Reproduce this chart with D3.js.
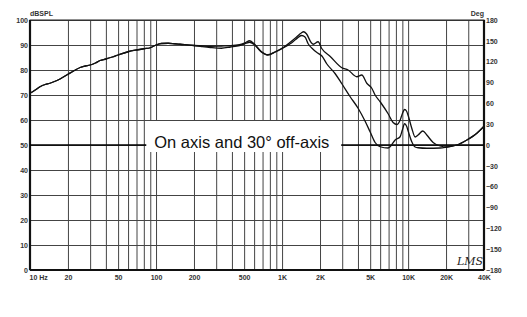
<!DOCTYPE html>
<html>
<head>
<meta charset="utf-8">
<script src="https://cdn.jsdelivr.net/npm/d3@7"></script>
<style>
  body { margin: 0; background: #fff; }
  svg { display: block; }
</style>
</head>
<body>
<div id="chart"></div>
<script>
// medidas de respuesta en frecuencia (Hz, dBSPL)
const onAxis = [
  [10, 70.7], [11, 72], [12, 73.3], [13.2, 74.2], [14.4, 74.7], [16, 75.6], [17.3, 76.4],
  [20, 78.3], [22.5, 79.8], [25, 81], [27.5, 81.6], [30, 82], [33, 82.8], [36, 83.8],
  [40, 84.4], [45, 85.2], [50, 86], [60, 87.3], [70, 88], [80, 88.5], [90, 88.9],
  [100, 90], [110, 90.6], [125, 90.7], [140, 90.5], [155, 90.3], [200, 89.8],
  [270, 89.5], [330, 89.6], [390, 89.7], [460, 90.1], [520, 91.1], [550, 91.7],
  [600, 90.5], [680, 87.5], [770, 86.1], [880, 87.3], [1020, 89], [1160, 91.1],
  [1290, 93], [1420, 94.8], [1480, 95.3], [1560, 94.5], [1700, 91], [1770, 90.3],
  [1930, 91.3], [2070, 88.5], [2400, 85.5], [2980, 80.9], [3340, 80], [3920, 77.3],
  [4290, 78], [4700, 74.7], [5150, 72.7], [5470, 70], [6000, 67.3], [6940, 62.5],
  [7600, 59], [8180, 58.2], [8650, 60], [9000, 62.5], [9380, 64.2], [9730, 63.5],
  [10050, 61.5], [10690, 56.7], [11370, 53.2], [12000, 54], [13090, 55.6], [14070, 54],
  [15790, 51], [17940, 49.6], [20270, 49.2], [24360, 50], [29250, 52], [35100, 54.7],
  [40000, 57.5]
];

const offAxis = [
  [10, 70.7], [11, 72], [12, 73.3], [13.2, 74.2], [14.4, 74.7], [16, 75.6], [17.3, 76.4],
  [20, 78.3], [22.5, 79.8], [25, 81], [27.5, 81.6], [30, 82], [33, 82.8], [36, 83.8],
  [40, 84.4], [45, 85.2], [50, 86], [60, 87.3], [70, 88], [80, 88.5], [90, 88.9],
  [100, 90], [110, 90.6], [125, 90.7], [140, 90.5], [155, 90.3], [200, 89.8],
  [230, 89.4], [270, 89], [330, 88.7], [390, 89.2], [460, 89.8], [520, 90.7], [550, 91.1],
  [600, 90.2], [680, 87.3], [770, 86], [880, 87.1], [1020, 88.8], [1160, 90.5],
  [1290, 92.3], [1430, 93.8], [1520, 93.2], [1610, 90.5], [1760, 88.3], [1930, 86.7],
  [2070, 85.6], [2260, 82.5], [2640, 78.5], [2980, 74.5], [3470, 69.3], [4010, 64.7],
  [4560, 59.5], [4990, 55.3], [5470, 51], [6000, 49.3], [6940, 48.8], [7200, 49.3],
  [7890, 52], [8640, 53.3], [9000, 56], [9380, 58.5], [9730, 57.5], [10050, 55.3],
  [10690, 51.3], [11370, 49.2], [12000, 48.9], [14070, 48.7], [17940, 48.8],
  [20270, 49.2], [24360, 50], [29250, 52], [35100, 54.7], [40000, 57.5]
];

// fase (grados), traza plana en 0
const phase = [[10, 0], [40000, 0]];

// ejes y etiquetas
const freqTicks = [10, 20, 50, 100, 200, 500, 1000, 2000, 5000, 10000, 20000, 40000];
const freqLabels = ["10 Hz", "20", "50", "100", "200", "500", "1K", "2K", "5K", "10K", "20K", "40K"];
const gridFreqs = [20, 30, 40, 50, 60, 70, 80, 90, 100, 200, 300, 400, 500, 600, 700, 800, 900,
  1000, 2000, 3000, 4000, 5000, 6000, 7000, 8000, 9000, 10000, 20000, 30000];
const dbTicks = [0, 10, 20, 30, 40, 50, 60, 70, 80, 90, 100];
const degTicks = [-180, -150, -120, -90, -60, -30, 0, 30, 60, 90, 120, 150, 180];
const chartLabel = "On axis and 30° off-axis";

const width = 527, height = 317;
const margin = { top: 20, right: 43, bottom: 47, left: 30 };
const innerWidth = width - margin.left - margin.right;
const innerHeight = height - margin.top - margin.bottom;
const labelFont = "Arial, 'Liberation Sans', sans-serif";

const svg = d3.select("#chart").append("svg")
  .attr("width", width).attr("height", height);
svg.append("rect").attr("width", width).attr("height", height).attr("fill", "#fff");

const g = svg.append("g").attr("transform", `translate(${margin.left},${margin.top})`);

const x = d3.scaleLog().domain([10, 40000]).range([0, innerWidth]);
const y = d3.scaleLinear().domain([0, 100]).range([innerHeight, 0]);
const yDeg = d3.scaleLinear().domain([-180, 180]).range([innerHeight, 0]);

// rejilla vertical
g.append("g")
  .attr("transform", `translate(0,${innerHeight})`)
  .call(d3.axisBottom(x).tickValues(gridFreqs).tickSize(-innerHeight).tickFormat(""))
  .call(a => a.select(".domain").remove())
  .call(a => a.selectAll("text").remove())
  .call(a => a.selectAll("line").attr("stroke", "#444").attr("stroke-width", 1));

// rejilla horizontal
g.append("g")
  .call(d3.axisLeft(y).tickValues(dbTicks).tickSize(-innerWidth).tickFormat(""))
  .call(a => a.select(".domain").remove())
  .call(a => a.selectAll("text").remove())
  .call(a => a.selectAll("line").attr("stroke", "#444").attr("stroke-width", 1));

// marco
g.append("rect").attr("width", innerWidth).attr("height", innerHeight)
  .attr("fill", "none").attr("stroke", "#222").attr("stroke-width", 1);
[[0, 0, 0, innerHeight], [innerWidth, 0, innerWidth, innerHeight], [0, innerHeight, innerWidth, innerHeight]]
  .forEach(l => g.append("line")
    .attr("x1", l[0]).attr("y1", l[1]).attr("x2", l[2]).attr("y2", l[3])
    .attr("stroke", "#111").attr("stroke-width", 2.2));

// traza de fase
g.append("path").datum(phase)
  .attr("fill", "none").attr("stroke", "#000").attr("stroke-width", 1.6)
  .attr("d", d3.line().x(d => x(d[0])).y(d => yDeg(d[1])));

// caja del titulo
g.append("rect")
  .attr("x", x(90) - 4).attr("y", y(60) + 1)
  .attr("width", x(3000) - x(90) + 3).attr("height", y(40) - y(60) - 19)
  .attr("fill", "#fff");
g.append("text")
  .attr("x", x(90) + 4).attr("y", y(48.9))
  .attr("font-family", labelFont)
  .attr("font-size", 16.5).attr("fill", "#111")
  .text(chartLabel);

// curvas
const line = d3.line().x(d => x(d[0])).y(d => y(d[1])).curve(d3.curveMonotoneX);
[offAxis, onAxis].forEach(s => {
  g.append("path").datum(s)
    .attr("fill", "none").attr("stroke", "#111").attr("stroke-width", 1.3)
    .attr("stroke-linejoin", "round")
    .attr("d", line);
});

// estilo de las etiquetas de los ejes
function styleAxis(a) {
  a.select(".domain").remove();
  a.attr("font-size", 7).attr("font-family", labelFont).attr("font-weight", "bold");
  a.selectAll(".tick text").attr("fill", "#333");
}

// ejes con etiquetas
const xAxis = g.append("g")
  .attr("transform", `translate(0,${innerHeight})`)
  .call(d3.axisBottom(x).tickValues(freqTicks).tickSize(0).tickPadding(5)
    .tickFormat((d, i) => freqLabels[i]))
  .call(styleAxis);
xAxis.selectAll(".tick text").filter((d, i) => i === 0)
  .attr("text-anchor", "start").attr("dx", -1);

g.append("g")
  .call(d3.axisLeft(y).tickValues(dbTicks).tickSize(0).tickPadding(2))
  .call(styleAxis);

g.append("g")
  .attr("transform", `translate(${innerWidth},0)`)
  .call(d3.axisRight(yDeg).tickValues(degTicks).tickSize(0).tickPadding(2))
  .call(styleAxis);

// titulos de ejes
g.append("text").attr("x", 0).attr("y", -4)
  .attr("font-family", labelFont).attr("font-weight", "bold")
  .attr("font-size", 7).attr("fill", "#333").text("dBSPL");
g.append("text").attr("x", innerWidth).attr("y", -4).attr("text-anchor", "end")
  .attr("font-family", labelFont).attr("font-weight", "bold")
  .attr("font-size", 7).attr("fill", "#333").text("Deg");

// firma
g.append("text").attr("x", innerWidth - 27).attr("y", innerHeight - 5)
  .attr("font-family", "'DejaVu Serif', serif").attr("font-style", "italic")
  .attr("font-size", 11).attr("fill", "#222")
  .text("LMS");
</script>
</body>
</html>
